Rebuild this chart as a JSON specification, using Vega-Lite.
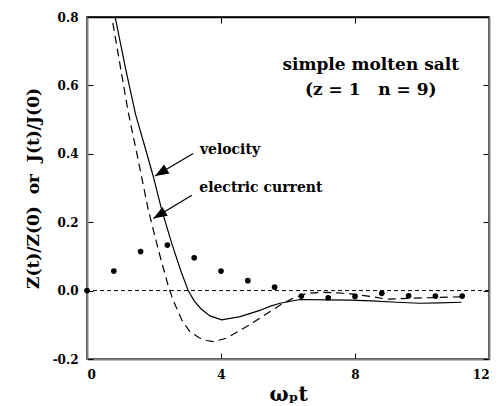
{
  "$schema": "https://vega.github.io/schema/vega-lite/v6.json",
  "width": 402,
  "height": 342,
  "autosize": {"type": "none"},
  "padding": {"left": 87, "top": 17, "right": 11, "bottom": 47},
  "background": "white",
  "config": {
    "view": {"stroke": "black", "strokeWidth": 1.5},
    "font": "DejaVu Serif",
    "axis": {
      "grid": false,
      "domainColor": "#808080",
      "domainWidth": 2,
      "tickColor": "black",
      "tickWidth": 1,
      "tickSize": -6,
      "labelFont": "DejaVu Serif",
      "labelFontWeight": "bold",
      "labelFontSize": 12,
      "labelColor": "black",
      "titleFont": "DejaVu Serif",
      "titleFontWeight": "bold",
      "titleColor": "black"
    }
  },
  "datasets": {
    "zero": [{"t": 0, "v": 0}],
    "velocity": [
      {"t": 0.5, "v": 0.96}, {"t": 0.84, "v": 0.8}, {"t": 1.15, "v": 0.65}, {"t": 1.45, "v": 0.515}, {"t": 1.73, "v": 0.42},
      {"t": 1.98, "v": 0.333}, {"t": 2.23, "v": 0.236}, {"t": 2.53, "v": 0.138}, {"t": 2.8, "v": 0.058},
      {"t": 3.02, "v": 0.0}, {"t": 3.2, "v": -0.03}, {"t": 3.4, "v": -0.053}, {"t": 3.67, "v": -0.074}, {"t": 4.02, "v": -0.0855},
      {"t": 4.57, "v": -0.076}, {"t": 5.16, "v": -0.058}, {"t": 5.46, "v": -0.046}, {"t": 5.76, "v": -0.037},
      {"t": 6.36, "v": -0.026}, {"t": 7.16, "v": -0.027}, {"t": 7.85, "v": -0.028}, {"t": 8.5, "v": -0.03},
      {"t": 9.24, "v": -0.034}, {"t": 9.94, "v": -0.037}, {"t": 10.5, "v": -0.036}, {"t": 11.18, "v": -0.034}
    ],
    "current": [
      {"t": 0.45, "v": 0.97}, {"t": 0.74, "v": 0.8}, {"t": 1.23, "v": 0.522}, {"t": 1.53, "v": 0.381},
      {"t": 1.83, "v": 0.236}, {"t": 2.13, "v": 0.119}, {"t": 2.43, "v": 0.012}, {"t": 2.58, "v": -0.03},
      {"t": 2.83, "v": -0.086}, {"t": 3.07, "v": -0.12}, {"t": 3.35, "v": -0.138}, {"t": 3.57, "v": -0.146},
      {"t": 3.77, "v": -0.149}, {"t": 4.17, "v": -0.139}, {"t": 4.77, "v": -0.105}, {"t": 5.41, "v": -0.065},
      {"t": 5.8, "v": -0.04}, {"t": 6.16, "v": -0.022}, {"t": 6.56, "v": -0.008}, {"t": 7.05, "v": -0.005},
      {"t": 7.75, "v": -0.008}, {"t": 8.45, "v": -0.017}, {"t": 8.95, "v": -0.025}, {"t": 9.74, "v": -0.022},
      {"t": 10.84, "v": -0.019}, {"t": 11.2, "v": -0.018}
    ],
    "dots": [
      {"t": 0.0, "v": 0.0}, {"t": 0.8, "v": 0.057}, {"t": 1.6, "v": 0.114}, {"t": 2.4, "v": 0.133},
      {"t": 3.2, "v": 0.096}, {"t": 4.0, "v": 0.057}, {"t": 4.8, "v": 0.029}, {"t": 5.6, "v": 0.01},
      {"t": 6.4, "v": -0.016}, {"t": 7.2, "v": -0.021}, {"t": 8.0, "v": -0.017}, {"t": 8.8, "v": -0.008},
      {"t": 9.6, "v": -0.015}, {"t": 10.4, "v": -0.016}, {"t": 11.2, "v": -0.016}
    ],
    "arrows": [
      {"x": 3.17, "y": 0.401, "x2": 2.03, "y2": 0.335},
      {"x": 3.13, "y": 0.279, "x2": 1.98, "y2": 0.211}
    ],
    "arrowLabels": [
      {"x": 3.37, "y": 0.411, "text": "velocity"},
      {"x": 3.35, "y": 0.3, "text": "electric current"}
    ],
    "titleLabels": [
      {"x": 8.47, "y": 0.659, "text": "simple molten salt"},
      {"x": 8.47, "y": 0.586, "text": "(z = 1\u00a0\u00a0 n = 9)"}
    ]
  },
  "resolve": {"axis": {"x": "independent", "y": "independent"}},
  "layer": [
    {
      "data": {"name": "zero"},
      "mark": {"type": "rule", "color": "black", "strokeWidth": 1, "strokeDash": [4, 3]},
      "encoding": {
        "y": {"field": "v", "type": "quantitative", "scale": {"domain": [-0.2, 0.8], "nice": false, "zero": false},
          "axis": {"orient": "left", "values": [-0.2, 0, 0.2, 0.4, 0.6, 0.8], "labelExpr": "replace(format(datum.value, '.1f'), '\u2212', '-')", "labelPadding": 15, "title": "Z(t)/Z(0)\u00a0 or\u00a0 J(t)/J(0)", "titleFontSize": 17, "titlePadding": 10}}
      }
    },
    {
      "data": {"name": "velocity"},
      "mark": {"type": "line", "color": "black", "strokeWidth": 1.2, "clip": true},
      "encoding": {
        "x": {"field": "t", "type": "quantitative", "scale": {"domain": [0, 12], "nice": false, "zero": false},
          "axis": {"orient": "bottom", "values": [0, 4, 8, 12], "format": "d", "labelPadding": 16, "title": "\u03c9\u209at", "titleFontSize": 20, "titlePadding": 4}},
        "y": {"field": "v", "type": "quantitative", "axis": null}
      }
    },
    {
      "data": {"name": "current"},
      "mark": {"type": "line", "color": "black", "strokeWidth": 1.2, "strokeDash": [8, 5], "clip": true},
      "encoding": {
        "x": {"field": "t", "type": "quantitative", "axis": null},
        "y": {"field": "v", "type": "quantitative", "axis": null}
      }
    },
    {
      "data": {"name": "dots"},
      "mark": {"type": "point", "filled": true, "color": "black", "size": 32, "opacity": 1},
      "encoding": {
        "x": {"field": "t", "type": "quantitative", "axis": null},
        "y": {"field": "v", "type": "quantitative", "axis": null}
      }
    },
    {
      "data": {"name": "arrows"},
      "mark": {"type": "rule", "color": "black", "strokeWidth": 1.3},
      "encoding": {
        "x": {"field": "x", "type": "quantitative", "axis": null},
        "y": {"field": "y", "type": "quantitative", "axis": null},
        "x2": {"field": "x2"},
        "y2": {"field": "y2"}
      }
    },
    {
      "data": {"name": "arrows"},
      "mark": {"type": "point", "filled": true, "color": "black", "opacity": 1, "shape": "M0,0L-0.38,1L0.38,1Z", "size": 750, "angle": 239},
      "encoding": {
        "x": {"field": "x2", "type": "quantitative", "axis": null},
        "y": {"field": "y2", "type": "quantitative", "axis": null}
      }
    },
    {
      "data": {"name": "arrowLabels"},
      "mark": {"type": "text", "align": "left", "baseline": "middle", "font": "DejaVu Serif", "fontWeight": "bold", "fontSize": 14, "color": "black"},
      "encoding": {
        "x": {"field": "x", "type": "quantitative", "axis": null},
        "y": {"field": "y", "type": "quantitative", "axis": null},
        "text": {"field": "text"}
      }
    },
    {
      "data": {"name": "titleLabels"},
      "mark": {"type": "text", "align": "center", "baseline": "middle", "font": "DejaVu Serif", "fontWeight": "bold", "fontSize": 17, "color": "black"},
      "encoding": {
        "x": {"field": "x", "type": "quantitative", "axis": null},
        "y": {"field": "y", "type": "quantitative", "axis": null},
        "text": {"field": "text"}
      }
    },
    {
      "data": {"name": "zero"},
      "mark": {"type": "point", "opacity": 0},
      "encoding": {
        "x": {"field": "t", "type": "quantitative",
          "axis": {"orient": "top", "values": [0, 4, 8, 12], "labels": false, "title": null, "domainColor": "black", "domainWidth": 1.5}},
        "y": {"field": "v", "type": "quantitative",
          "axis": {"orient": "right", "values": [-0.2, 0, 0.2, 0.4, 0.6, 0.8], "labels": false, "title": null}}
      }
    }
  ]
}
